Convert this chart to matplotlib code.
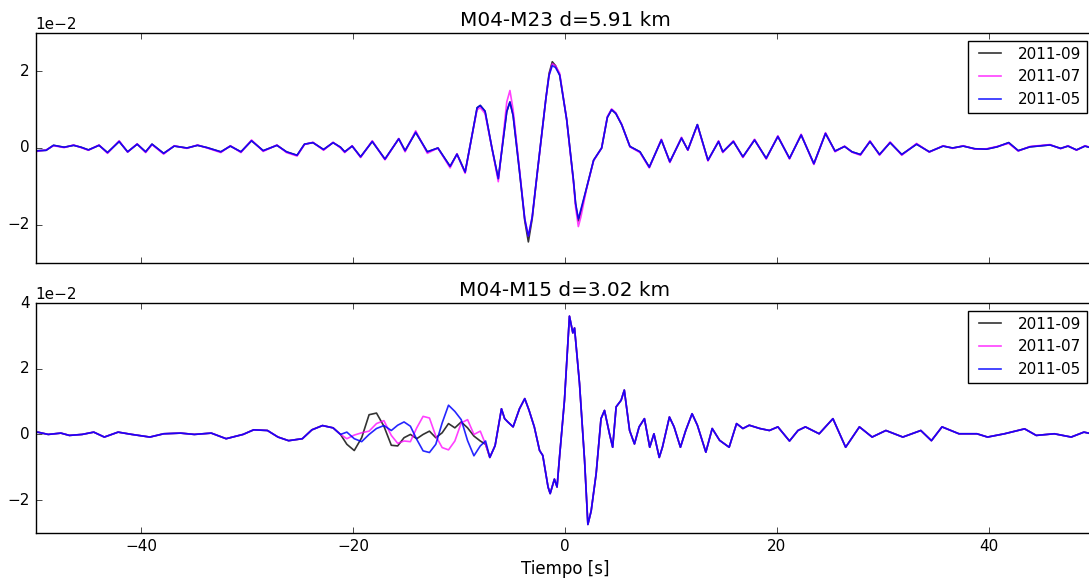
import matplotlib
matplotlib.use('Agg')
import matplotlib.pyplot as plt
from matplotlib.ticker import MultipleLocator

# Valores (amplitud en unidades de 1e-2)
titulos = ['M04-M23 d=5.91 km', 'M04-M15 d=3.02 km']
fechas = ['2011-09', '2011-07', '2011-05']
colores = ['k', '#ff00ff', '#0000ff']

# Panel superior: M04-M23
t_sup = [-50.0, -49.7, -49.0, -48.3, -47.3, -46.4, -45.7, -45.0, -44.0, -43.2,
         -42.1, -41.3, -40.4, -39.6, -39.0, -37.9, -36.9, -35.7, -34.7, -33.8,
         -32.5, -31.6, -30.6, -29.6, -28.5, -27.2, -26.3, -25.3, -24.6, -23.8,
         -22.8, -21.9, -21.2, -20.8, -20.1, -19.3, -18.2, -17.0, -15.7, -15.1,
         -14.1, -13.0, -12.0, -10.85, -10.2, -9.43, -8.8, -8.3, -8.0, -7.55,
         -6.9, -6.3, -5.8, -5.5, -5.2, -4.9, -4.3, -3.8, -3.46, -3.1,
         -2.6, -1.8, -1.5, -1.2, -0.9, -0.5, 0.16, 0.8, 1.0, 1.26,
         1.5, 2.05, 2.7, 3.46, 4.0, 4.4, 4.8, 5.35, 6.13, 7.08,
         7.96, 9.1, 9.9, 11.0, 11.6, 12.5, 13.5, 14.5, 14.9, 15.9,
         16.8, 17.9, 19.0, 20.1, 21.2, 22.3, 23.5, 24.6, 25.5, 26.4,
         27.1, 27.9, 28.8, 29.7, 30.7, 31.8, 33.2, 34.4, 35.7, 36.6,
         37.6, 38.7, 39.8, 40.8, 41.9, 42.8, 43.9, 45.8, 46.8, 47.5,
         48.3, 49.1, 50.0]
sup_09 = [-0.08, -0.07, -0.06, 0.07, 0.02, 0.07, 0.02, -0.05, 0.07, -0.12,
          0.17, -0.10, 0.10, -0.10, 0.10, -0.14, 0.05, 0.00, 0.07, 0.01,
          -0.10, 0.05, -0.10, 0.19, -0.07, 0.07, -0.10, -0.19, 0.10, 0.14,
          -0.04, 0.14, 0.02, -0.10, 0.05, -0.23, 0.17, -0.29, 0.24, -0.07,
          0.41, -0.10, 0.00, -0.48, -0.16, -0.63, 0.30, 1.05, 1.11, 0.96,
          0.00, -0.80, 0.30, 0.95, 1.20, 0.85, -0.60, -1.90, -2.45, -1.85,
          -0.60, 1.30, 1.95, 2.25, 2.15, 1.90, 0.74, -0.85, -1.45, -1.90,
          -1.65, -1.03, -0.32, 0.00, 0.80, 1.00, 0.90, 0.61, 0.04, -0.10,
          -0.50, 0.21, -0.36, 0.26, -0.05, 0.61, -0.32, 0.17, -0.10, 0.17,
          -0.23, 0.21, -0.27, 0.30, -0.27, 0.34, -0.41, 0.38, -0.08, 0.04,
          -0.10, -0.17, 0.17, -0.17, 0.14, -0.17, 0.10, -0.10, 0.05, 0.00,
          0.05, -0.02, -0.03, 0.03, 0.14, -0.07, 0.03, 0.08, -0.01, 0.05,
          -0.05, 0.05, -0.02]
sup_07 = [-0.10, -0.08, -0.05, 0.06, 0.01, 0.08, 0.01, -0.06, 0.08, -0.14,
          0.19, -0.11, 0.11, -0.12, 0.09, -0.16, 0.06, -0.01, 0.08, 0.00,
          -0.12, 0.06, -0.12, 0.21, -0.09, 0.08, -0.12, -0.21, 0.09, 0.15,
          -0.06, 0.15, 0.00, -0.12, 0.06, -0.25, 0.19, -0.31, 0.25, -0.10,
          0.45, -0.14, 0.00, -0.52, -0.15, -0.66, 0.30, 1.00, 1.05, 0.90,
          0.00, -0.88, 0.40, 1.20, 1.50, 1.00, -0.55, -1.85, -2.30, -1.80,
          -0.62, 1.30, 1.90, 2.20, 2.15, 1.95, 0.74, -0.90, -1.55, -2.05,
          -1.80, -1.05, -0.33, 0.00, 0.82, 1.02, 0.92, 0.62, 0.03, -0.12,
          -0.52, 0.23, -0.38, 0.28, -0.06, 0.60, -0.34, 0.19, -0.12, 0.19,
          -0.25, 0.23, -0.29, 0.32, -0.29, 0.36, -0.43, 0.40, -0.10, 0.05,
          -0.11, -0.19, 0.19, -0.19, 0.16, -0.19, 0.12, -0.11, 0.06, -0.01,
          0.06, -0.03, -0.02, 0.04, 0.12, -0.08, 0.04, 0.09, -0.02, 0.06,
          -0.06, 0.06, -0.02]
sup_05 = [-0.08, -0.07, -0.06, 0.07, 0.02, 0.07, 0.02, -0.05, 0.07, -0.12,
          0.17, -0.10, 0.10, -0.10, 0.10, -0.14, 0.05, 0.00, 0.07, 0.01,
          -0.10, 0.05, -0.10, 0.19, -0.07, 0.07, -0.10, -0.19, 0.10, 0.14,
          -0.04, 0.14, 0.02, -0.10, 0.05, -0.23, 0.17, -0.29, 0.24, -0.07,
          0.41, -0.10, 0.00, -0.48, -0.16, -0.63, 0.30, 1.05, 1.11, 0.96,
          0.00, -0.80, 0.30, 0.95, 1.20, 0.85, -0.60, -1.85, -2.30, -1.80,
          -0.60, 1.30, 1.90, 2.15, 2.10, 1.90, 0.74, -0.85, -1.45, -1.85,
          -1.60, -1.03, -0.32, 0.00, 0.80, 1.00, 0.90, 0.61, 0.04, -0.10,
          -0.50, 0.21, -0.36, 0.26, -0.05, 0.61, -0.32, 0.17, -0.10, 0.17,
          -0.23, 0.21, -0.27, 0.30, -0.27, 0.34, -0.41, 0.38, -0.08, 0.04,
          -0.10, -0.17, 0.17, -0.17, 0.14, -0.17, 0.10, -0.10, 0.05, 0.00,
          0.05, -0.02, -0.03, 0.03, 0.14, -0.07, 0.03, 0.08, -0.01, 0.05,
          -0.05, 0.05, -0.02]

# Panel inferior: M04-M15
t_inf = [-50.0, -49.8, -48.8, -47.6, -46.8, -45.6, -44.5, -43.5, -42.2, -40.9,
         -39.2, -37.9, -36.3, -35.0, -33.4, -32.0, -30.4, -29.4, -28.1, -27.1,
         -26.1, -24.8, -23.9, -22.9, -21.9, -21.2,
         -20.6, -19.9, -19.2, -18.5, -17.8, -17.1, -16.4, -15.8, -15.2, -14.6,
         -14.0, -13.4, -12.8, -12.2, -11.6, -11.0, -10.4, -9.8, -9.2, -8.6,
         -8.0, -7.5,
         -7.1, -6.6, -6.0, -5.7, -5.4, -4.9, -4.3, -3.8, -3.4, -2.9,
         -2.4, -2.1, -1.6, -1.4, -1.0, -0.75, -0.52, -0.05, 0.42, 0.74,
         0.9, 1.37, 1.85, 2.16, 2.47, 2.94, 3.4, 3.73, 4.2, 4.5,
         4.83, 5.3, 5.6, 6.1, 6.56, 7.0, 7.5, 8.0, 8.4, 8.9,
         9.2, 9.86, 10.3, 10.9, 11.4, 12.0, 12.5, 13.3, 13.9, 14.6,
         15.5, 16.2, 16.8, 17.4, 18.4, 19.3, 20.1, 21.2, 22.0, 22.7,
         24.0, 25.3, 26.5, 27.8, 29.0, 30.3, 31.9, 33.6, 34.6, 35.6,
         37.2, 38.9, 39.9, 41.5, 43.4, 44.5, 46.2, 47.8, 49.0, 50.0]
inf_comun_izq = [0.05, 0.07, 0.00, 0.04, -0.03, 0.00, 0.07, -0.08, 0.07, 0.00,
                 -0.08, 0.02, 0.04, 0.00, 0.04, -0.13, 0.00, 0.14, 0.12, -0.08,
                 -0.19, -0.13, 0.14, 0.27, 0.20, 0.00]
inf_09_mid = [-0.30, -0.49, -0.10, 0.60, 0.65, 0.25, -0.33, -0.35, -0.10, 0.00,
              -0.13, 0.00, 0.10, -0.10, 0.05, 0.33, 0.20, 0.38, 0.20, -0.05,
              -0.20, -0.30]
inf_07_mid = [-0.13, -0.02, 0.05, 0.10, 0.33, 0.42, -0.03, -0.27, -0.20, -0.22,
              0.20, 0.55, 0.50, -0.05, -0.40, -0.47, -0.20, 0.35, 0.45, 0.00,
              0.10, -0.30]
inf_05_mid = [0.07, -0.13, -0.22, 0.00, 0.18, 0.27, 0.12, 0.28, 0.38, 0.25,
              -0.15, -0.50, -0.55, -0.30, 0.35, 0.89, 0.70, 0.45, -0.19, -0.65,
              -0.35, -0.20]
inf_comun_der = [-0.70, -0.34, 0.78, 0.48, 0.38, 0.23, 0.78, 1.09, 0.74, 0.23,
                 -0.49, -0.64, -1.60, -1.80, -1.36, -1.60, -0.70, 1.04, 3.60, 3.09,
                 3.24, 1.55, -0.80, -2.74, -2.33, -1.20, 0.48, 0.73, 0.02, -0.39,
                 0.84, 1.04, 1.35, 0.12, -0.29, 0.23, 0.48, -0.39, 0.02, -0.70,
                 -0.39, 0.53, 0.23, -0.39, 0.12, 0.63, 0.28, -0.54, 0.18, -0.18,
                 -0.39, 0.33, 0.18, 0.28, 0.18, 0.12, 0.23, -0.20, 0.12, 0.23,
                 0.02, 0.48, -0.39, 0.23, -0.08, 0.12, -0.08, 0.12, -0.19, 0.23,
                 0.02, 0.02, -0.08, 0.02, 0.17, -0.03, 0.02, -0.08, 0.07, 0.00]

inf_09 = inf_comun_izq + inf_09_mid + inf_comun_der
inf_07 = inf_comun_izq + inf_07_mid + inf_comun_der
inf_05 = inf_comun_izq + inf_05_mid + inf_comun_der

paneles = [
    (t_sup, [sup_09, sup_07, sup_05], (-3, 3)),
    (t_inf, [inf_09, inf_07, inf_05], (-3, 4)),
]

plt.style.use('classic')
plt.rcParams['font.family'] = ['DejaVu Sans']

fig = plt.figure(figsize=(10.89, 5.84), dpi=100, facecolor='white')
izq = 35.5 / 1089
ancho = (1094.5 - 35.5) / 1089
ax1 = fig.add_axes([izq, 1 - 263 / 584, ancho, 230 / 584])
ax2 = fig.add_axes([izq, 1 - 533 / 584, ancho, 230 / 584], sharex=ax1)

alfas = [0.8, 0.75, 0.85]
for ax, titulo, (t, series, lim) in zip([ax1, ax2], titulos, paneles):
    for fecha, color, a, v in zip(fechas, colores, alfas, series):
        ax.plot(t, [x * 1e-2 for x in v], color=color, lw=1.2, alpha=a, label=fecha)
    ax.set_xlim(-50, 50)
    ax.set_ylim(lim[0] * 1e-2, lim[1] * 1e-2)
    ax.yaxis.set_major_locator(MultipleLocator(0.02))
    ax.xaxis.set_major_locator(MultipleLocator(20))
    ax.ticklabel_format(axis='y', style='sci', scilimits=(0, 0))
    ax.yaxis.get_offset_text().set_fontsize(11)
    ax.tick_params(labelsize=11)
    ax.set_title(titulo, fontsize=14.4)
    ax.legend(loc='upper right', fontsize=11, handlelength=2.0, borderaxespad=0.5)

plt.setp(ax1.get_xticklabels(), visible=False)
ax2.set_xlabel('Tiempo [s]', fontsize=12)

fig.savefig('out.png', dpi=100, facecolor='white')
